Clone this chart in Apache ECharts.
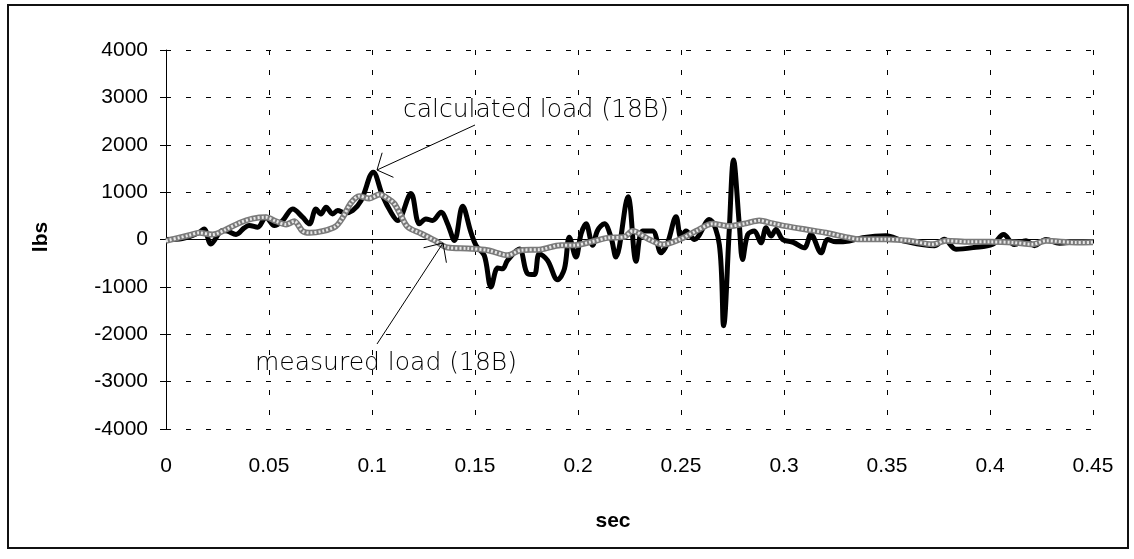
<!DOCTYPE html>
<html>
<head>
<meta charset="utf-8">
<script src="https://cdn.jsdelivr.net/npm/echarts@6/dist/echarts.min.js"></script>
<style>
    html, body {margin: 0; padding: 0; background: #fff;}
    #chart {width: 1134px; height: 559px;}
</style>
</head>
<body>
<div id="chart"></div>
<script>
// calculated load (18B) - black line
var calcTime = [0, 0.008, 0.0162, 0.0185, 0.0218, 0.0275, 0.0299, 0.034, 0.038, 0.0404,
    0.0445, 0.0485, 0.0526, 0.0566, 0.0615, 0.0663, 0.0696, 0.0728, 0.0752, 0.0777,
    0.0809, 0.0833, 0.087, 0.0906, 0.0947, 0.1006, 0.1051, 0.1092, 0.1124, 0.1189,
    0.123, 0.1262, 0.1294, 0.1335, 0.1367, 0.14, 0.144, 0.148, 0.1505, 0.1545,
    0.1578, 0.161, 0.1634, 0.1658, 0.1715, 0.1755, 0.1788, 0.1812, 0.1852, 0.1901,
    0.1934, 0.1958, 0.199, 0.2015, 0.2039, 0.2071, 0.2095, 0.2128, 0.216, 0.2184,
    0.2243, 0.2282, 0.2314, 0.2362, 0.2403, 0.2435, 0.2476, 0.25, 0.2524, 0.2565,
    0.2637, 0.2686, 0.2707, 0.2734, 0.2755, 0.2783, 0.2799, 0.2824, 0.2856, 0.2888,
    0.2913, 0.2937, 0.2961, 0.2993, 0.3045, 0.3098, 0.3131, 0.318, 0.3212, 0.3252,
    0.3317, 0.3382, 0.3495, 0.3576, 0.373, 0.3778, 0.3835, 0.392, 0.4013, 0.4066,
    0.4118, 0.4175, 0.4215, 0.4272, 0.4337, 0.4417, 0.45];
var calcLoad = [0, 20, 150, 223, -93, 189, 176, 106, 245, 295,
    259, 470, 295, 400, 644, 470, 330, 644, 540, 680,
    540, 610, 560, 610, 820, 1420, 926, 575, 400, 970,
    330, 435, 400, 575, 330, -21, 700, 154, -126, -337,
    -1000, -600, -620, -440, -200, -720, -740, -300, -440, -850,
    -620, 50, -370, 120, 330, -120, 190, 330, 50, -370,
    900, -457, 178, 178, -281, -70, 480, 36, 178, 0,
    423, -106, -1820, 178, 1680, 317, -423, 106, 178, -70,
    247, 72, 211, 0, -60, -175, 106, -281, 0, -50,
    -30, 40, 78, -27, -133, 6, -205, -170, -100, 106,
    -106, -27, -130, 0, -80, -50, -40];

// measured load (18B) - grey line
var measTime = [0, 0.0113, 0.0162, 0.0226, 0.0291, 0.0356, 0.042, 0.0485, 0.0534, 0.0583,
    0.0623, 0.0663, 0.0696, 0.076, 0.0825, 0.0857, 0.0898, 0.0938, 0.0987, 0.1036,
    0.1084, 0.1108, 0.114, 0.1173, 0.1238, 0.1302, 0.1367, 0.1464, 0.1561, 0.1658,
    0.1723, 0.182, 0.1917, 0.1982, 0.2063, 0.2144, 0.2225, 0.2265, 0.2346, 0.2411,
    0.2492, 0.2573, 0.2653, 0.2734, 0.2815, 0.288, 0.2945, 0.301, 0.3107, 0.3204,
    0.3317, 0.3366, 0.3495, 0.3608, 0.3722, 0.3786, 0.39, 0.40, 0.411, 0.4207,
    0.4272, 0.4417, 0.45];
var measLoad = [-30, 90, 140, 105, 211, 350, 440, 470, 385, 317,
    385, 176, 140, 176, 282, 457, 774, 915, 866, 950,
    845, 760, 512, 266, 127, -15, -169, -190, -226, -331,
    -226, -211, -120, -120, -50, 34, 55, 178, 0, -106,
    0, 178, 330, 283, 340, 400, 340, 283, 211, 142,
    36, 6, 6, -27, -100, -27, -50, -50, -63, -100,
    -27, -63, -60];

var xTicks = [0, 0.05, 0.1, 0.15, 0.2, 0.25, 0.3, 0.35, 0.4, 0.45];
var yTicks = [-4000, -3000, -2000, -1000, 0, 1000, 2000, 3000, 4000];

function pairs(xs, ys) {
    var out = [];
    for (var i = 0; i < xs.length; i++) out.push([xs[i], ys[i]]);
    return out;
}

// 开口箭头 (open V arrow head)
function arrow(tip, tail, len, spread) {
    var a = Math.atan2(tail[1] - tip[1], tail[0] - tip[0]);
    var p1 = [tip[0] + len * Math.cos(a + spread), tip[1] + len * Math.sin(a + spread)];
    var p2 = [tip[0] + len * Math.cos(a - spread), tip[1] + len * Math.sin(a - spread)];
    var st = {stroke: '#000', lineWidth: 1};
    return [
        {type: 'line', shape: {x1: tail[0], y1: tail[1], x2: tip[0], y2: tip[1]}, style: st, z: 50},
        {type: 'line', shape: {x1: tip[0], y1: tip[1], x2: p1[0], y2: p1[1]}, style: st, z: 50},
        {type: 'line', shape: {x1: tip[0], y1: tip[1], x2: p2[0], y2: p2[1]}, style: st, z: 50}
    ];
}

var labelFont = 'Liberation Sans';
var noteFont = 'DejaVu Sans';
var dash = [5, 15];

var myChart = echarts.init(document.getElementById('chart'));
var option = {
    animation: false,
    backgroundColor: '#fff',
    grid: {left: 166, right: 41, top: 50, bottom: 130},
    xAxis: [
        {
            type: 'value', min: 0, max: 0.45, interval: 0.05,
            axisLine: {show: false, onZero: false},
            axisTick: {show: false},
            axisLabel: {
                color: '#000', fontFamily: labelFont, fontSize: 21, margin: 27,
                formatter: function (v) { return String(+v.toFixed(2)); }
            },
            splitLine: {show: true, lineStyle: {color: '#000', width: 1, type: dash}}
        },
        {
            type: 'value', min: 0, max: 0.45, interval: 0.05, position: 'bottom',
            axisLine: {show: true, onZero: true, lineStyle: {color: '#000', width: 1}},
            axisTick: {show: true, length: 4, lineStyle: {color: '#000'}},
            axisLabel: {show: false},
            splitLine: {show: false}
        }
    ],
    yAxis: {
        type: 'value', min: -4000, max: 4000, interval: 1000,
        axisLine: {show: true, lineStyle: {color: '#000', width: 1}},
        axisTick: {show: true, length: 6, lineStyle: {color: '#000'}},
        axisLabel: {
            color: '#000', fontFamily: labelFont, fontSize: 21, margin: 18,
            formatter: function (v) { return String(v); }
        },
        splitLine: {show: true, lineStyle: {color: '#000', width: 1, type: dash}}
    },
    series: [
        {
            name: 'calculated load (18B)', type: 'line', xAxisIndex: 0,
            data: pairs(calcTime, calcLoad), showSymbol: false, smooth: 0.35,
            lineStyle: {color: '#000', width: 5}, z: 3
        },
        {
            name: 'measured load (18B)', type: 'line', xAxisIndex: 0,
            data: pairs(measTime, measLoad), showSymbol: false, smooth: 0.3,
            lineStyle: {color: '#7a7a7a', width: 6}, z: 4
        },
        {
            name: 'measured load (18B) fill', type: 'line', xAxisIndex: 0,
            data: pairs(measTime, measLoad), showSymbol: false, smooth: 0.3,
            lineStyle: {color: '#e6e6e6', width: 3, type: [2, 2]}, z: 5
        }
    ],
    graphic: [
        {type: 'rect', shape: {x: 8, y: 5, width: 1120, height: 543},
         style: {fill: null, stroke: '#111', lineWidth: 2}, z: 60},
        {type: 'text', x: 403, y: 110, z: 50,
         style: {text: 'calculated load (18B)', font: '200 25px "' + noteFont + '"', fill: '#000', verticalAlign: 'middle'}},
        {type: 'text', x: 255, y: 363, z: 50,
         style: {text: 'measured load (18B)', font: '200 25px "' + noteFont + '"', fill: '#000', verticalAlign: 'middle'}},
        {type: 'text', x: 41, y: 237, rotation: Math.PI / 2, z: 50,
         style: {text: 'lbs', font: 'bold 21px "' + labelFont + '"', fill: '#000', align: 'center', verticalAlign: 'middle'}},
        {type: 'text', x: 613, y: 521, z: 50,
         style: {text: 'sec', font: 'bold 21px "' + labelFont + '"', fill: '#000', align: 'center', verticalAlign: 'middle'}}
    ].concat(arrow([377, 170], [475, 125], 18, 0.85)).concat(arrow([443, 243], [377, 344], 20, 0.75))
};
myChart.setOption(option, true);
window.onresize = function () {
    myChart.resize();
};
</script>
</body>
</html>
